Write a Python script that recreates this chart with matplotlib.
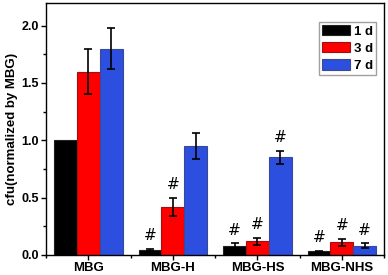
import numpy as np
import matplotlib
matplotlib.use("Agg")
import matplotlib.pyplot as plt
from matplotlib.ticker import MultipleLocator, FormatStrFormatter

groups = ["MBG", "MBG-H", "MBG-HS", "MBG-NHS"]
series = ["1 d", "3 d", "7 d"]
d1 = [1.00, 0.04, 0.08, 0.03]
d1_err = [0.0, 0.01, 0.02, 0.005]
d3 = [1.60, 0.42, 0.12, 0.11]
d3_err = [0.20, 0.08, 0.03, 0.03]
d7 = [1.80, 0.95, 0.85, 0.08]
d7_err = [0.18, 0.11, 0.06, 0.02]
# which bars get a '#' mark
d1_mark = [False, True, True, True]
d3_mark = [False, True, True, True]
d7_mark = [False, False, True, True]

plt.rcParams['font.family'] = ['Liberation Sans', 'DejaVu Sans']

fig = plt.figure(figsize=(3.88, 2.75), dpi=100)
ax = fig.add_axes([0.119, 0.073, 0.871, 0.917])

x = np.arange(len(groups))
w = 0.27
colors = ["#000000", "#ff0000", "#2d4fe0"]
edges = ["#222222", "#a01010", "#3a4a90"]

for i, (vals, errs, marks) in enumerate([(d1, d1_err, d1_mark),
                                         (d3, d3_err, d3_mark),
                                         (d7, d7_err, d7_mark)]):
    pos = x + (i - 1) * w
    ax.bar(pos, vals, w, color=colors[i], edgecolor=edges[i], linewidth=0.8,
           label=series[i], zorder=2)
    vals_a = np.array(vals)
    errs_a = np.array(errs)
    keep = errs_a > 0
    ax.errorbar(pos[keep], vals_a[keep], yerr=errs_a[keep], fmt="none", ecolor="black",
                elinewidth=1.2, capsize=3, capthick=1.2, zorder=3)
    for p, v, e, m in zip(pos, vals, errs, marks):
        if m:
            ax.text(p, v + e + 0.05, "#", ha="center", va="bottom",
                    fontsize=11, family="DejaVu Sans")

ax.set_xlim(-0.5, 3.5)
ax.set_ylim(0, 2.2)
ax.set_xticks(x)
ax.set_xticklabels(groups, fontweight="bold", fontsize=9.5)
ax.xaxis.set_minor_locator(MultipleLocator(0.5))
ax.yaxis.set_major_locator(MultipleLocator(0.5))
ax.yaxis.set_minor_locator(MultipleLocator(0.25))
ax.yaxis.set_major_formatter(FormatStrFormatter("%.1f"))
for lab in ax.get_yticklabels():
    lab.set_fontweight("bold")
    lab.set_fontsize(9)
ax.tick_params(which="major", length=3.5, width=1, direction="out")
ax.tick_params(which="minor", length=2, width=1, direction="out")
ax.tick_params(axis="x", which="major", pad=1.5)
ax.tick_params(axis="y", which="major", pad=1.5)
ax.tick_params(axis="x", which="both", top=False)
ax.tick_params(axis="y", which="both", right=False)
for s in ax.spines.values():
    s.set_linewidth(1)

ax.set_ylabel("cfu(normalized by MBG)", fontweight="bold", fontsize=9.5, labelpad=3)

leg = ax.legend(loc="upper right", bbox_to_anchor=(0.977, 0.925),
                prop={"weight": "bold", "size": 9.5}, frameon=True, fancybox=False,
                edgecolor="#888888", handlelength=2.1, handleheight=0.8,
                handletextpad=0.3, borderpad=0.25, labelspacing=0.35, borderaxespad=0)
leg.get_frame().set_linewidth(1)

fig.savefig("out.png", dpi=100)
